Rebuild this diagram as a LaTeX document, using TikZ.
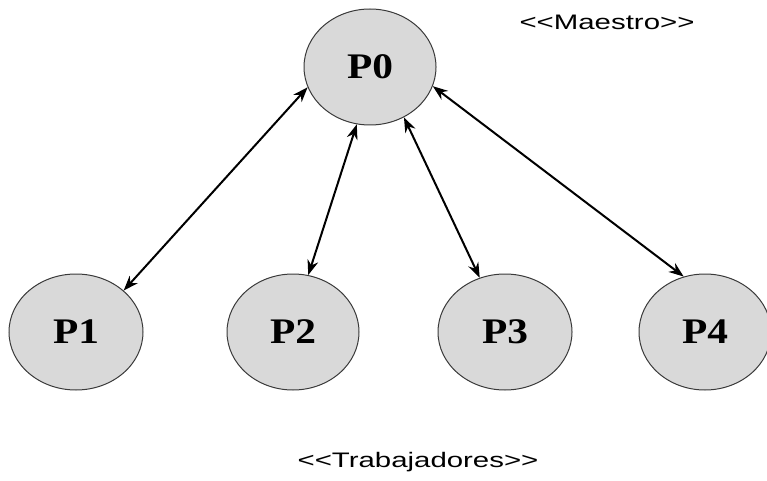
\documentclass[tikz,border=0pt]{standalone}
\usepackage{fontspec}
\usetikzlibrary{shapes.geometric,arrows.meta}
\newfontfamily\procfont[FakeStretch=1.15]{Liberation Serif}
\newfontfamily\rolefont[FakeStretch=1.4]{Liberation Sans}
\definecolor{procfill}{HTML}{D9D9D9}
\definecolor{procline}{HTML}{3A3A3A}

\tikzset{
	proc/.style={ellipse, draw=procline, line width=1pt, fill=procfill,
		minimum width=132pt, minimum height=116pt, inner sep=0pt,
		font=\procfont\bfseries\fontsize{36}{36}\selectfont},
	link/.style={{Stealth[length=15pt,width=11pt]}-{Stealth[length=15pt,width=11pt]}, line width=2pt},
	role/.style={font=\rolefont\fontsize{21}{21}\selectfont}
}

\begin{document}
\begin{tikzpicture}[x=1pt,y=1pt]
	
	\useasboundingbox (0,0) rectangle (767,480);
	\node[proc] (p0) at (370,413) {P0};
	\node[proc, minimum width=134pt] (p1) at (76,148) {P1};
	\node[proc] (p2) at (293,148) {P2};
	\node[proc, minimum width=134pt] (p3) at (505,148) {P3};
	\node[proc] (p4) at (705,148) {P4};
	\node[role] (maestro) at (607,458) {<<Maestro>>};
	\node[role] (trab) at (418,18) {<<Trabajadores>>};
	
	\draw[link] (p0.198) -- (p1.41);
	\draw[link] (p0.257) -- (p2.75);
	\draw[link] (p0.304) -- (p3.115);
	\draw[link] (p0.343) -- (p4.111);
	
\end{tikzpicture}
\end{document}
